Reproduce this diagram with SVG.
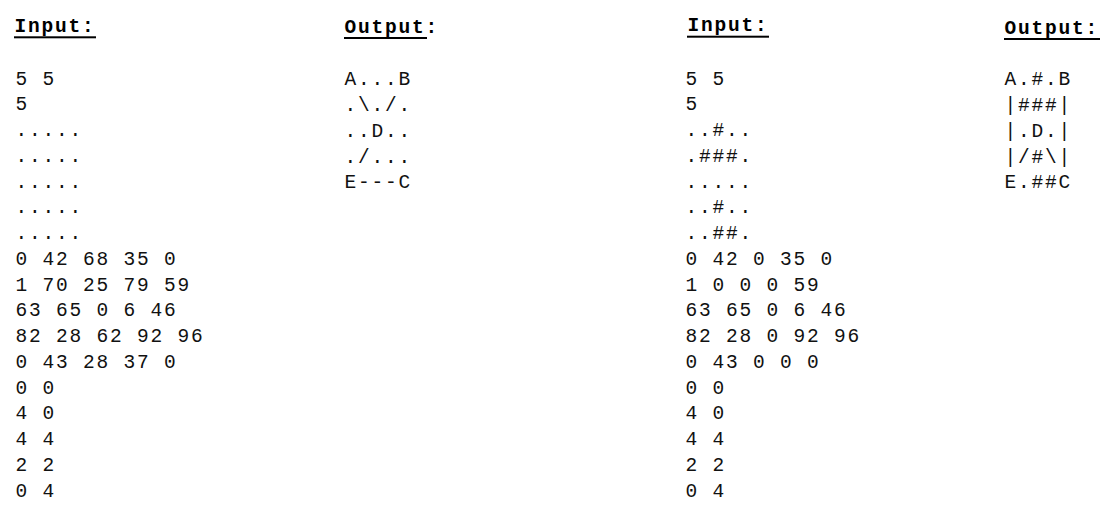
<svg xmlns="http://www.w3.org/2000/svg" width="1107" height="513" viewBox="0 0 1107 513">
<style>
.t{font-family:"Courier New","Liberation Mono",monospace;font-size:19.5px;letter-spacing:1.8px;fill:#111;}
.h{font-family:"Courier New","Liberation Mono",monospace;font-size:19.5px;letter-spacing:1.8px;font-weight:bold;fill:#000;}
.u{fill:#000;}
</style>
<rect width="1107" height="513" fill="#fff"/>
<g id="left-input">
<text class="h" x="14.5" y="32.3">Input:</text>
<rect class="u" x="14" y="36.3" width="82" height="2"/>
<text class="t">
<tspan x="15.5" y="84.5">5 5</tspan>
<tspan x="15.5" y="110.25">5</tspan>
<tspan x="15.5" y="136">.....</tspan>
<tspan x="15.5" y="161.75">.....</tspan>
<tspan x="15.5" y="187.5">.....</tspan>
<tspan x="15.5" y="213.25">.....</tspan>
<tspan x="15.5" y="239">.....</tspan>
<tspan x="15.5" y="264.75">0 42 68 35 0</tspan>
<tspan x="15.5" y="290.5">1 70 25 79 59</tspan>
<tspan x="15.5" y="316.25">63 65 0 6 46</tspan>
<tspan x="15.5" y="342">82 28 62 92 96</tspan>
<tspan x="15.5" y="367.75">0 43 28 37 0</tspan>
<tspan x="15.5" y="393.5">0 0</tspan>
<tspan x="15.5" y="419.25">4 0</tspan>
<tspan x="15.5" y="445">4 4</tspan>
<tspan x="15.5" y="470.75">2 2</tspan>
<tspan x="15.5" y="496.5">0 4</tspan>
</text>
</g>
<g id="left-output">
<text class="h" x="344.5" y="33.3">Output:</text>
<rect class="u" x="344" y="37" width="83" height="2"/>
<text class="t">
<tspan x="344.5" y="85.3">A...B</tspan>
<tspan x="344.5" y="111.05">.\./.</tspan>
<tspan x="344.5" y="136.8">..D..</tspan>
<tspan x="344.5" y="162.55">./...</tspan>
<tspan x="344.5" y="188.3">E---C</tspan>
</text>
</g>
<g id="right-input">
<text class="h" x="687.5" y="31.3">Input:</text>
<rect class="u" x="687" y="35.7" width="82" height="2"/>
<text class="t">
<tspan x="685.5" y="84.5">5 5</tspan>
<tspan x="685.5" y="110.25">5</tspan>
<tspan x="685.5" y="136">..#..</tspan>
<tspan x="685.5" y="161.75">.###.</tspan>
<tspan x="685.5" y="187.5">.....</tspan>
<tspan x="685.5" y="213.25">..#..</tspan>
<tspan x="685.5" y="239">..##.</tspan>
<tspan x="685.5" y="264.75">0 42 0 35 0</tspan>
<tspan x="685.5" y="290.5">1 0 0 0 59</tspan>
<tspan x="685.5" y="316.25">63 65 0 6 46</tspan>
<tspan x="685.5" y="342">82 28 0 92 96</tspan>
<tspan x="685.5" y="367.75">0 43 0 0 0</tspan>
<tspan x="685.5" y="393.5">0 0</tspan>
<tspan x="685.5" y="419.25">4 0</tspan>
<tspan x="685.5" y="445">4 4</tspan>
<tspan x="685.5" y="470.75">2 2</tspan>
<tspan x="685.5" y="496.5">0 4</tspan>
</text>
</g>
<g id="right-output">
<text class="h" x="1004.5" y="34">Output:</text>
<rect class="u" x="1004" y="38" width="96" height="2"/>
<text class="t">
<tspan x="1004.5" y="85.3">A.#.B</tspan>
<tspan x="1004.5" y="111.05">|###|</tspan>
<tspan x="1004.5" y="136.8">|.D.|</tspan>
<tspan x="1004.5" y="162.55">|/#\|</tspan>
<tspan x="1004.5" y="188.3">E.##C</tspan>
</text>
</g>
</svg>
